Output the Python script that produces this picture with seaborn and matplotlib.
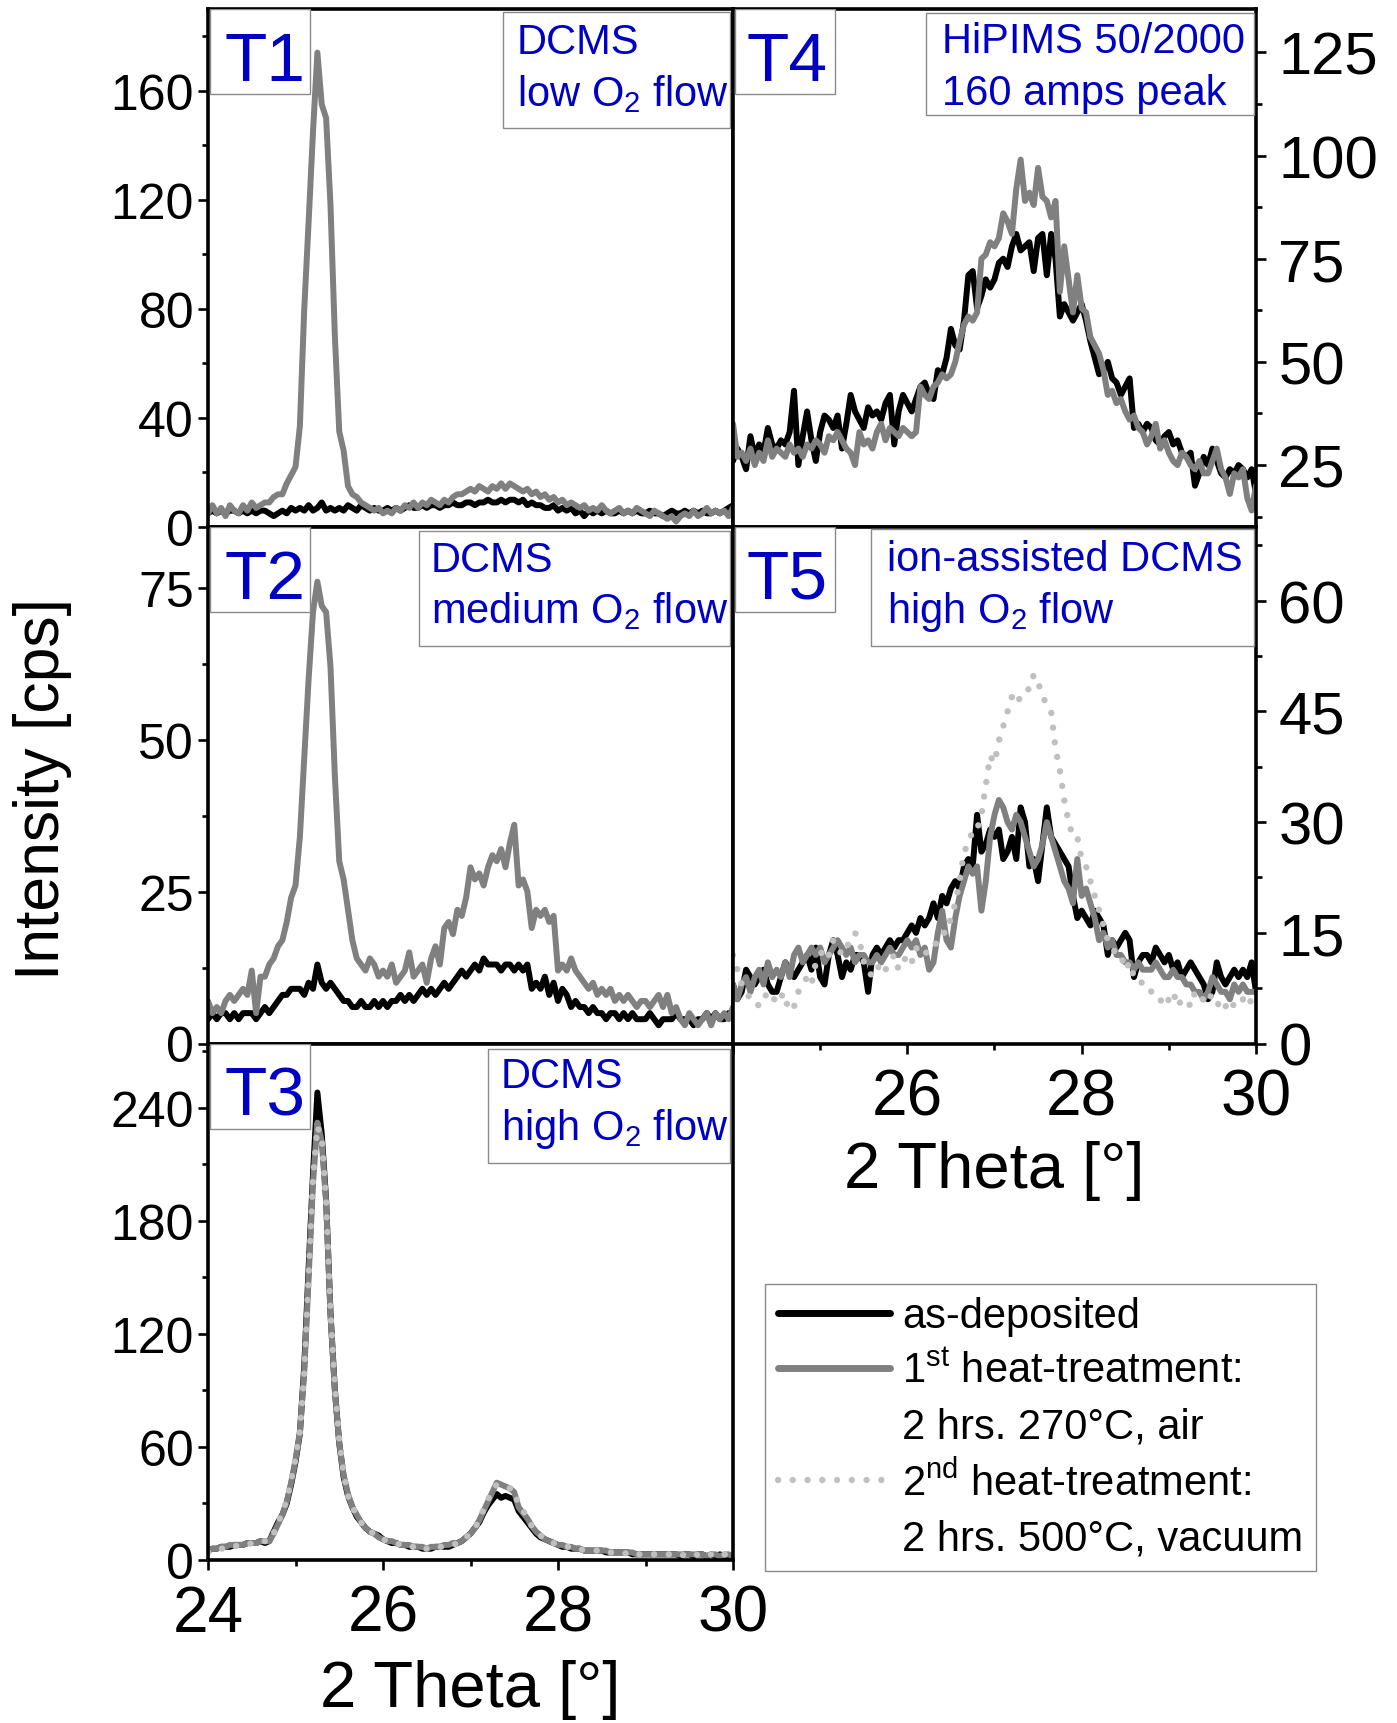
import numpy as np
import matplotlib
matplotlib.use("Agg")
import matplotlib.pyplot as plt
from matplotlib.lines import Line2D
from matplotlib.patches import Rectangle
from matplotlib.ticker import MultipleLocator
import seaborn as sns

sns.set_style("white")
plt.rcParams['font.family'] = ['Liberation Sans', 'DejaVu Sans']
plt.rcParams['mathtext.fontset'] = 'custom'
plt.rcParams['mathtext.rm'] = 'Liberation Sans'
plt.rcParams['mathtext.it'] = 'Liberation Sans:italic'
plt.rcParams['mathtext.bf'] = 'Liberation Sans:bold'
plt.rcParams['text.color'] = 'black'
plt.rcParams['axes.labelcolor'] = 'black'
plt.rcParams['xtick.color'] = 'black'
plt.rcParams['ytick.color'] = 'black'

# ---------------- data (2 Theta grid, 0.05 deg steps) ----------------
two_theta = np.round(np.arange(24.0, 30.0001, 0.05), 2)

t1_as = [5, 6, 5, 6, 5, 6, 6, 5, 6, 5,
         6, 5, 6, 6, 5, 4, 5, 6, 5, 7,
         6, 7, 6, 8, 6, 7, 9, 6, 7, 6,
         7, 6, 8, 7, 6, 8, 7, 6, 7, 6,
         6, 7, 6, 7, 6, 7, 8, 7, 7, 8,
         7, 8, 8, 7, 8, 8, 9, 8, 8, 9,
         9, 8, 9, 9, 10, 9, 9, 10, 9, 10,
         10, 9, 10, 8, 9, 8, 8, 7, 7, 8,
         6, 7, 6, 7, 5, 6, 4, 6, 5, 6,
         5, 6, 5, 5, 6, 5, 6, 5, 6, 5,
         5, 6, 5, 5, 4, 5, 6, 5, 5, 6,
         5, 6, 5, 6, 5, 5, 6, 5, 6, 7,
         8]
t1_ht1 = [5, 8, 5, 7, 4, 8, 6, 5, 8, 6,
          9, 7, 8, 9, 9, 11, 12, 12, 16, 19,
          22, 37, 80, 112, 145, 174, 155, 150, 118, 70,
          35, 28, 15, 12, 11, 9, 8, 7, 6, 7,
          5, 6, 5, 7, 6, 8, 7, 9, 7, 9,
          8, 10, 9, 8, 10, 9, 11, 12, 12, 13,
          14, 13, 15, 14, 13, 15, 14, 16, 14, 16,
          15, 14, 13, 14, 12, 13, 11, 12, 10, 11,
          9, 10, 8, 9, 8, 7, 8, 6, 7, 6,
          8, 6, 5, 6, 7, 5, 6, 5, 7, 6,
          5, 4, 6, 5, 4, 3, 4, 2, 4, 5,
          4, 6, 4, 5, 7, 5, 6, 5, 6, 4,
          7]

t2_as = [4, 5, 4, 5, 5, 4, 5, 4, 5, 5,
         5, 4, 5, 6, 5, 6, 7, 8, 8, 9,
         9, 9, 8, 10, 9, 13, 10, 9, 10, 9,
         8, 7, 7, 6, 6, 7, 6, 6, 7, 6,
         7, 6, 7, 7, 8, 7, 8, 7, 8, 9,
         8, 9, 8, 9, 10, 9, 10, 11, 12, 11,
         12, 13, 12, 14, 13, 13, 13, 12, 13, 13,
         12, 13, 12, 13, 9, 10, 9, 11, 8, 10,
         7, 9, 8, 6, 7, 6, 6, 5, 6, 5,
         5, 4, 5, 5, 4, 5, 4, 5, 4, 4,
         4, 5, 4, 3, 4, 4, 4, 5, 4, 4,
         4, 3, 4, 4, 5, 4, 5, 4, 4, 5,
         4]
t2_ht1 = [7, 5, 6, 5, 7, 8, 7, 8, 9, 8,
          12, 5, 11, 11, 13, 14, 16, 17, 20, 24,
          26, 34, 47, 60, 71, 76, 72, 71, 62, 44,
          30, 27, 22, 17, 14, 13, 12, 14, 13, 11,
          12, 11, 13, 10, 11, 12, 15, 11, 12, 13,
          10, 14, 16, 13, 19, 20, 18, 22, 21, 24,
          29, 27, 28, 26, 29, 31, 30, 32, 29, 33,
          36, 26, 27, 25, 19, 22, 21, 22, 20, 21,
          12, 13, 12, 14, 12, 11, 10, 9, 10, 8,
          9, 8, 9, 7, 8, 7, 8, 7, 6, 7,
          7, 6, 7, 8, 6, 8, 5, 6, 4, 3,
          5, 4, 3, 4, 5, 3, 5, 4, 5, 4,
          6]

t3_as = [5, 6, 6, 7, 7, 7, 8, 8, 8, 9,
         9, 9, 10, 9, 10, 15, 20, 24, 30, 40,
         52, 67, 103, 155, 205, 248, 226, 191, 131, 90,
         62, 44, 34, 28, 23, 20, 17, 15, 14, 13,
         11, 10, 9, 9, 8, 8, 7, 7, 7, 6,
         6, 6, 7, 7, 7, 7, 8, 9, 10, 12,
         14, 17, 20, 25, 29, 32, 35, 33, 34, 33,
         32, 26, 23, 20, 17, 14, 12, 11, 10, 9,
         8, 7, 7, 6, 6, 6, 5, 5, 5, 5,
         5, 4, 4, 4, 4, 4, 4, 3, 3, 3,
         3, 3, 3, 3, 3, 3, 3, 3, 2, 3,
         3, 2, 3, 3, 2, 3, 2, 3, 2, 2,
         2]
t3_ht1 = [5, 6, 6, 7, 7, 8, 8, 8, 8, 9,
          9, 9, 10, 10, 10, 14, 19, 24, 31, 41,
          53, 68, 100, 150, 200, 232, 222, 190, 130, 90,
          62, 45, 35, 28, 24, 20, 17, 15, 14, 12,
          11, 10, 10, 9, 8, 8, 8, 7, 7, 7,
          6, 7, 7, 7, 8, 8, 9, 9, 10, 12,
          14, 17, 21, 26, 31, 36, 41, 40, 39, 38,
          36, 28, 25, 22, 18, 15, 13, 11, 10, 9,
          8, 8, 7, 7, 6, 6, 5, 5, 5, 5,
          5, 5, 4, 4, 4, 4, 4, 4, 3, 3,
          3, 3, 3, 3, 3, 3, 3, 3, 3, 3,
          3, 3, 3, 3, 2, 3, 3, 2, 3, 3,
          2]
t3_ht2 = [4, 5, 6, 6, 6, 7, 7, 8, 8, 8,
          9, 9, 9, 10, 10, 14, 20, 25, 32, 42,
          54, 68, 99, 150, 202, 230, 224, 190, 132, 92,
          64, 46, 34, 28, 24, 20, 17, 15, 14, 12,
          11, 10, 9, 9, 8, 8, 7, 7, 6, 7,
          6, 6, 7, 7, 7, 7, 8, 9, 10, 12,
          14, 17, 21, 27, 32, 37, 40, 40, 39, 38,
          37, 29, 26, 23, 18, 15, 13, 11, 10, 9,
          8, 8, 7, 7, 6, 6, 5, 5, 5, 5,
          5, 4, 4, 4, 4, 4, 3, 4, 3, 3,
          3, 3, 3, 3, 3, 3, 3, 3, 2, 3,
          3, 2, 3, 3, 2, 3, 2, 2, 3, 2,
          2]

t4_as = [26, 29, 27, 24, 32, 27, 30, 28, 34, 30,
         29, 31, 30, 33, 43, 25, 32, 38, 31, 26,
         33, 37, 36, 34, 37, 29, 35, 42, 38, 36,
         34, 39, 37, 38, 36, 40, 42, 30, 38, 42,
         40, 38, 41, 44, 45, 42, 41, 48, 47, 51,
         58, 54, 53, 60, 71, 72, 63, 66, 70, 68,
         70, 74, 75, 73, 78, 81, 77, 78, 79, 72,
         80, 81, 71, 81, 75, 61, 64, 62, 60, 62,
         64, 60, 55, 51, 47, 48, 50, 46, 45, 42,
         44, 46, 34, 35, 33, 35, 34, 31, 30, 32,
         33, 30, 31, 28, 27, 28, 20, 23, 27, 25,
         29, 26, 23, 22, 24, 23, 25, 24, 22, 24,
         18]
t4_ht1 = [35, 27, 28, 26, 29, 25, 28, 26, 31, 27,
          29, 28, 27, 30, 28, 29, 27, 30, 29, 31,
          30, 28, 32, 31, 33, 31, 29, 28, 25, 33,
          30, 31, 29, 33, 35, 31, 34, 33, 32, 34,
          33, 32, 33, 44, 42, 41, 44, 45, 47, 46,
          47, 50, 55, 59, 61, 60, 62, 75, 76, 79,
          78, 80, 86, 84, 81, 92, 99, 89, 91, 88,
          97, 90, 89, 85, 89, 67, 78, 70, 62, 71,
          63, 62, 56, 54, 52, 48, 42, 43, 40, 41,
          38, 36, 37, 34, 33, 30, 32, 35, 29, 31,
          28, 26, 25, 28, 27, 25, 24, 26, 23, 23,
          26, 29, 24, 22, 18, 23, 22, 24, 17, 14,
          20]

t5_as = [8, 6, 7, 10, 9, 8, 9, 10, 8, 7,
         7, 9, 11, 10, 9, 10, 11, 12, 10, 13,
         9, 8, 12, 14, 12, 9, 11, 10, 12, 12,
         11, 7, 12, 13, 12, 13, 14, 13, 14, 14,
         15, 16, 15, 17, 16, 17, 19, 17, 20, 19,
         21, 22, 21, 24, 25, 24, 31, 26, 27, 29,
         28, 29, 25, 26, 28, 25, 32, 30, 24, 25,
         22, 27, 32, 28, 27, 26, 25, 24, 20, 17,
         18, 17, 16, 18, 17, 16, 12, 14, 13, 14,
         15, 14, 9, 11, 12, 12, 11, 13, 12, 11,
         12, 10, 11, 9, 10, 11, 10, 9, 8, 6,
         7, 11, 9, 8, 9, 10, 9, 10, 9, 11,
         7]
t5_ht1 = [8, 6, 8, 9, 7, 9, 10, 8, 11, 9,
          10, 9, 11, 9, 12, 13, 11, 12, 13, 12,
          13, 11, 12, 13, 14, 13, 12, 13, 11, 12,
          12, 11, 11, 12, 11, 12, 13, 12, 12, 13,
          14, 13, 14, 12, 13, 10, 11, 15, 18, 14,
          13, 17, 20, 22, 24, 23, 24, 18, 22, 28,
          31, 33, 32, 30, 29, 31, 30, 28, 26, 24,
          25, 27, 30, 28, 26, 24, 22, 21, 19, 25,
          20, 21, 19, 17, 14, 15, 13, 14, 12, 12,
          11, 11, 10, 11, 10, 10, 10, 11, 10, 9,
          9, 10, 9, 9, 8, 8, 7, 7, 6, 7,
          9, 8, 7, 7, 6, 8, 7, 8, 7, 7,
          7]
t5_ht2 = [12, 10, 8, 7, 6, 6, 5, 6, 7, 6,
          6, 7, 5, 6, 5, 7, 8, 9, 8, 11,
          12, 13, 12, 14, 13, 12, 13, 14, 15, 14,
          11, 10, 9, 10, 11, 10, 11, 12, 10, 11,
          12, 11, 13, 12, 12, 13, 13, 14, 15, 15,
          17, 19, 22, 26, 27, 29, 29, 31, 35, 39,
          38, 41, 43, 45, 47, 46, 47, 48, 48, 50,
          49, 47, 46, 45, 40, 37, 33, 30, 28, 28,
          25, 24, 22, 20, 18, 16, 14, 13, 12, 12,
          10, 11, 9, 9, 8, 8, 7, 7, 6, 5,
          6, 7, 5, 6, 6, 5, 7, 6, 6, 7,
          6, 5, 6, 5, 6, 5, 5, 6, 5, 6,
          7]

panel_names = ["T1", "T2", "T3", "T4", "T5"]
panel_desc = [["DCMS", "low O$_2$ flow"],
              ["DCMS", "medium O$_2$ flow"],
              ["DCMS", "high O$_2$ flow"],
              ["HiPIMS 50/2000", "160 amps peak"],
              ["ion-assisted DCMS", "high O$_2$ flow"]]
legend_labels = ["as-deposited",
                 "1$^{\\mathrm{st}}$ heat-treatment:",
                 "2 hrs. 270°C, air",
                 "2$^{\\mathrm{nd}}$ heat-treatment:",
                 "2 hrs. 500°C, vacuum"]
x_ticks = [24, 26, 28, 30]
x_ticklabels = ["24", "26", "28", "30"]

# ---------------- styling ----------------
C_AS, C_HT1, C_HT2 = "#000000", "#808080", "#C0C0C0"
BLUE = "#0000C4"
LW = 4.3
DOT = (0, (0.01, 2.3))
STYLE = {
    "as": dict(color=C_AS, linewidth=LW),
    "ht1": dict(color=C_HT1, linewidth=LW),
    "ht2": dict(color=C_HT2, linewidth=4.6, linestyle=DOT,
                dash_capstyle="round"),
}

W, H = 1397, 1724
col_x = [208, 733]
col_w = [525, 523]
row_y = [10, 528, 1044.5, 1561]

fig = plt.figure(figsize=(W / 100, H / 100), dpi=100)

panels = [
    dict(i=0, col=0, row=0, ylim=(0, 190), major=40, minor=20,
         series=[("as", t1_as), ("ht1", t1_ht1)],
         box=(295, 3, 522, 119), txt=(309, 44, 96)),
    dict(i=1, col=0, row=1, ylim=(0, 85), major=25, minor=12.5,
         series=[("as", t2_as), ("ht1", t2_ht1)],
         box=(211, 4, 522, 119), txt=(223, 44, 95)),
    dict(i=2, col=0, row=2, ylim=(0, 274), major=60, minor=30,
         series=[("as", t3_as), ("ht1", t3_ht1), ("ht2", t3_ht2)],
         box=(280, 5, 522, 119), txt=(293, 44, 96)),
    dict(i=3, col=1, row=0, ylim=(10, 135.5), major=25, minor=12.5,
         series=[("as", t4_as), ("ht1", t4_ht1)],
         box=(193, 4, 521, 106), txt=(209, 43, 95)),
    dict(i=4, col=1, row=1, ylim=(0, 70), major=15, minor=7.5,
         series=[("as", t5_as), ("ht1", t5_ht1), ("ht2", t5_ht2)],
         box=(138, 2, 521, 119), txt=(154, 43, 95)),
]

for p in panels:
    c, r = p["col"], p["row"]
    axw = col_w[c]
    axh = row_y[r + 1] - row_y[r]
    ax = fig.add_axes([col_x[c] / W, 1 - row_y[r + 1] / H, axw / W, axh / H])
    for key, vals in p["series"]:
        sns.lineplot(x=two_theta, y=np.asarray(vals, float), ax=ax,
                     estimator=None, sort=False, legend=False, **STYLE[key])
    ax.set_xlim(24, 30)
    ax.set_ylim(*p["ylim"])
    ax.set_xlabel("")
    ax.set_ylabel("")
    for s in ax.spines.values():
        s.set_linewidth(2.6)
        s.set_color("black")
    ax.yaxis.set_major_locator(MultipleLocator(p["major"]))
    ax.yaxis.set_minor_locator(MultipleLocator(p["minor"]))
    ax.tick_params(which="major", length=7, width=1.9, direction="out", color="black")
    ax.tick_params(which="minor", length=4.5, width=1.9, direction="out", color="black")
    if c == 0:
        ax.tick_params(axis="y", which="both", left=True, right=False,
                       labelleft=True, labelright=False, labelsize=36, pad=3)
    else:
        ax.yaxis.tick_right()
        ax.tick_params(axis="y", which="both", left=False, right=True,
                       labelleft=False, labelright=True, labelsize=43, pad=9)
    bottom_panel = (c == 0 and r == 2) or (c == 1 and r == 1)
    if bottom_panel:
        ax.set_xticks(x_ticks)
        labels = list(x_ticklabels)
        if c == 1:
            labels[0] = ""
        ax.set_xticklabels(labels)
        ax.xaxis.set_minor_locator(MultipleLocator(1))
        ax.tick_params(axis="x", which="both", bottom=True, top=False,
                       labelbottom=True, labelsize=46, pad=10)
    else:
        ax.tick_params(axis="x", which="both", bottom=False, top=False,
                       labelbottom=False)

    def fx(px):
        return px / axw

    def fy(py):
        return 1 - py / axh

    # panel name box
    nb_w, nb_h = 100, 85
    ax.add_patch(Rectangle((fx(1.5), fy(nb_h)), fx(nb_w), nb_h / axh,
                           transform=ax.transAxes, facecolor="white",
                           edgecolor="#8a8a8a", linewidth=1.0, zorder=5))
    off = 16 if c == 0 else 14
    ax.text(fx(off), fy(71), panel_names[p["i"]], transform=ax.transAxes,
            fontsize=50, color=BLUE, ha="left", va="baseline", zorder=6)

    # description box
    l, t, rr, b = p["box"]
    ax.add_patch(Rectangle((fx(l), fy(b)), fx(rr - l), (b - t) / axh,
                           transform=ax.transAxes, facecolor="white",
                           edgecolor="#8a8a8a", linewidth=1.0, zorder=5))
    tl, b1, b2 = p["txt"]
    for line, base in zip(panel_desc[p["i"]], (b1, b2)):
        ax.text(fx(tl), fy(base), line, transform=ax.transAxes, fontsize=30,
                color=BLUE, ha="left", va="baseline", zorder=6)

# axis titles
fig.text(42.5 / W, 1 - 789 / H, "Intensity [cps]", rotation=90,
         ha="center", va="center", fontsize=45, color="black")
fig.text((208 + 733) / 2 / W, 1 - 1707 / H, "2 Theta [°]",
         ha="center", va="baseline", fontsize=47, color="black")
fig.text((733 + 1256) / 2 / W, 1 - 1188 / H, "2 Theta [°]",
         ha="center", va="baseline", fontsize=47, color="black")

# legend
handles = [Line2D([], [], color=C_AS, linewidth=5, solid_capstyle="round"),
           Line2D([], [], color=C_HT1, linewidth=5, solid_capstyle="round"),
           Line2D([], [], color="none", linewidth=0),
           Line2D([], [], color=C_HT2, linewidth=4.6, linestyle=DOT,
                  dash_capstyle="round"),
           Line2D([], [], color="none", linewidth=0)]
leg = fig.legend(handles, legend_labels, loc="upper left",
                 bbox_to_anchor=(765 / W, 1 - 1285 / H),
                 bbox_transform=fig.transFigure, borderaxespad=0,
                 fontsize=30, handlelength=2.7, handletextpad=0.3,
                 labelspacing=0.36, borderpad=0.3, frameon=True,
                 fancybox=False, shadow=False, framealpha=1)
leg.get_frame().set_edgecolor("#8a8a8a")
leg.get_frame().set_linewidth(1.0)
for txt in leg.get_texts():
    txt.set_color("black")

fig.savefig("out.png", dpi=100)
